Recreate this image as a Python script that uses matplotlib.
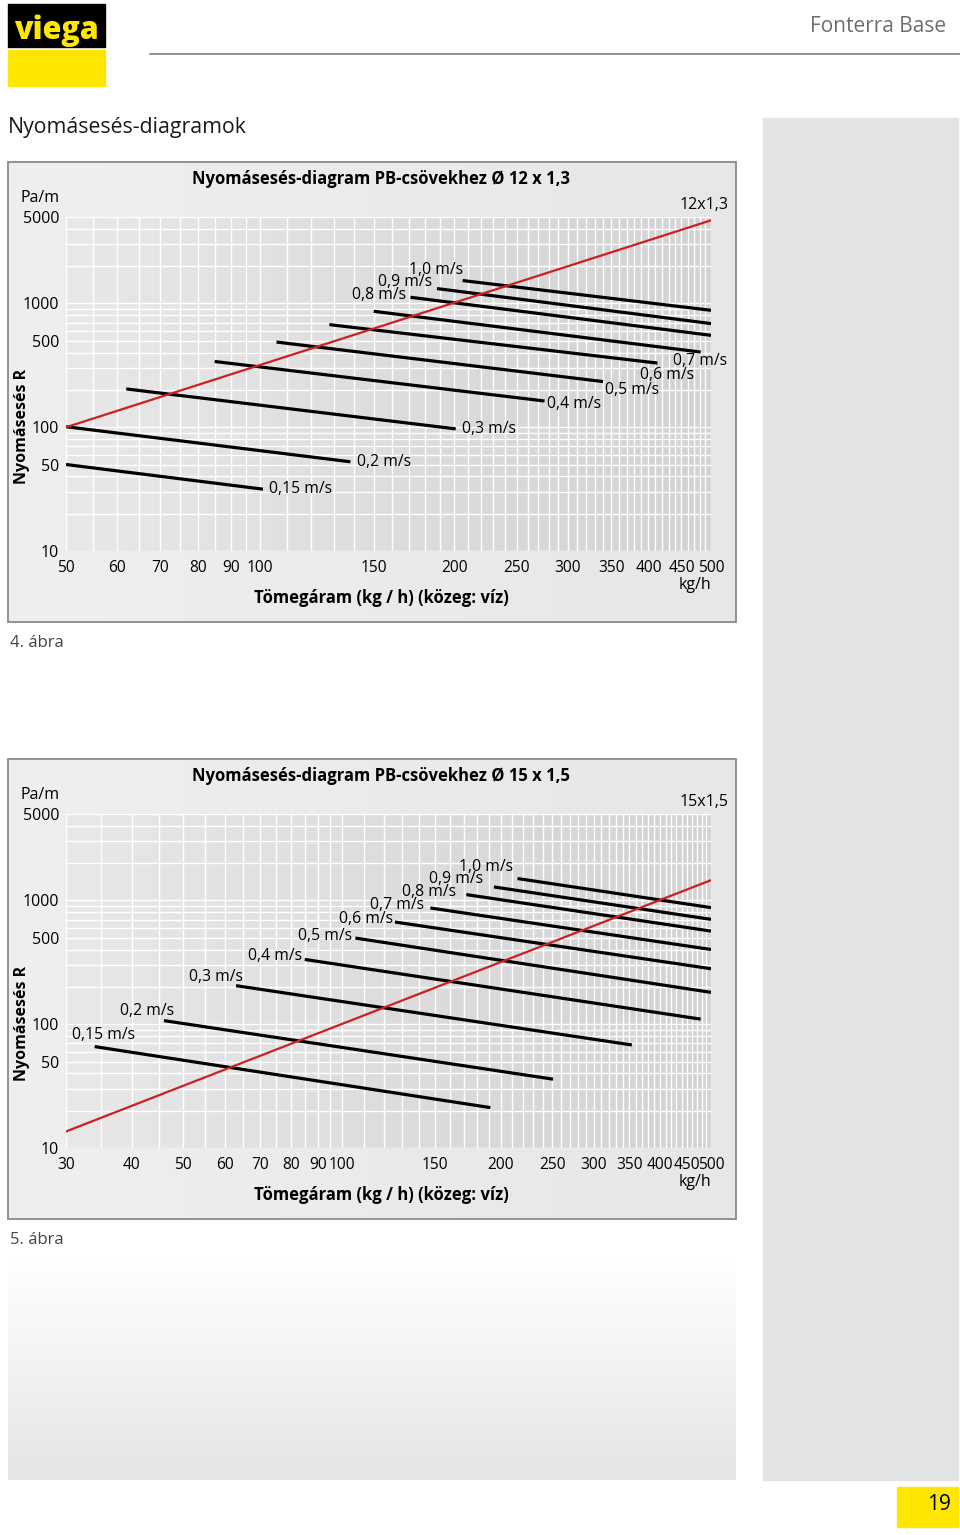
import numpy as np
import matplotlib.pyplot as plt
from matplotlib.patches import Rectangle
from matplotlib.colors import LinearSegmentedColormap
from matplotlib.ticker import FixedLocator, NullFormatter

plt.rcParams['font.family'] = ['Open Sans', 'DejaVu Sans']

W, H = 960, 1535
YELLOW = '#ffe600'
RED = '#cc1f24'

# ---- data ----
speed_labels = ["0,15 m/s", "0,2 m/s", "0,3 m/s", "0,4 m/s", "0,5 m/s",
                "0,6 m/s", "0,7 m/s", "0,8 m/s", "0,9 m/s", "1,0 m/s"]
r_ticks = [10, 50, 100, 500, 1000, 5000]

# fig. 4: PB pipe 12 x 1,3
flow_ticks_12 = [50, 60, 70, 80, 90, 100, 150, 200, 250, 300, 350, 400, 450, 500]
flow_start_12 = [50, 50, 62, 85, 106, 128, 150, 171, 188, 206]
r_start_12 = [50, 101, 204, 340, 488, 675, 865, 1123, 1320, 1533]
flow_end_12 = [101, 138, 201, 276, 340, 413, 482, 500, 500, 500]
r_end_12 = [31.6, 52.6, 97, 163, 234, 330, 405, 553, 688, 881]
red_flow_12 = [50, 500]
red_r_12 = [100, 4700]

# fig. 5: PB pipe 15 x 1,5
flow_ticks_15 = [30, 40, 50, 60, 70, 80, 90, 100, 150, 200, 250, 300, 350, 400, 450, 500]
flow_start_15 = [34, 46, 63, 85, 106, 126, 147, 172, 194, 215]
r_start_15 = [66, 107, 205, 334, 497, 670, 870, 1116, 1287, 1505]
flow_end_15 = [191, 251, 354, 478, 500, 500, 500, 500, 500, 500]
r_end_15 = [21.2, 36, 68, 110, 181, 281, 402, 566, 704, 876]
red_flow_15 = [30, 500]
red_r_15 = [13.6, 1460]

# label placement (anchor, dx px, dy px down, ha)
lab_12 = [('end', 6, 0, 'left'), ('end', 7, 0, 'left'), ('end', 6, 0, 'left'),
          ('end', 2, 3, 'left'), ('end', 2, 8, 'left'), ('end', -17, 12, 'left'),
          ('end', -28, 9, 'left'), ('start', -4, -2, 'right'),
          ('start', -5, -7, 'right'), ('start', 1, -11, 'right')]
lab_15 = [('start', 40, -12, 'right'), ('start', 10, -10, 'right'),
          ('start', 7, -9, 'right'), ('start', -3, -3, 'right'),
          ('start', -3, -2, 'right'), ('start', -2, -3, 'right'),
          ('start', -6, -3, 'right'), ('start', -10, -3, 'right'),
          ('start', -11, -8, 'right'), ('start', -4, -12, 'right')]


def px_rect(x0, y0, x1, y1):
    return [x0 / W, 1 - y1 / H, (x1 - x0) / W, (y1 - y0) / H]


def hgrad(ax, x0, y0, x1, y1, c0, c1, z=0):
    cm = LinearSegmentedColormap.from_list('g', [c0, c1])
    ax.imshow(np.linspace(0, 1, 256)[None, :], cmap=cm, aspect='auto',
              extent=[x0, x1, y1, y0], zorder=z, interpolation='bilinear')


fig = plt.figure(figsize=(W / 100, H / 100), dpi=100)
page = fig.add_axes([0, 0, 1, 1], zorder=0)
page.set_xlim(0, W)
page.set_ylim(H, 0)
page.axis('off')

# header
page.add_patch(Rectangle((8, 4), 97, 43, color='black', zorder=1))
page.add_patch(Rectangle((8, 50), 97, 36, color=YELLOW, zorder=1))
page.text(56, 31, "viega", color=YELLOW, fontsize=22, fontweight='heavy',
          ha='center', va='center', zorder=2)
page.plot([150, 960], [54, 54], color='#808080', lw=1.2)
page.text(946, 27, "Fonterra Base", color='#6d6e70', fontsize=15,
          ha='right', va='center')
page.text(8, 127, "Nyomásesés-diagramok", color='#1a1a1a', fontsize=15.3,
          ha='left', va='center')

# side panel, bottom fade, page number
page.add_patch(Rectangle((763, 118), 195, 1362, color='#e3e4e6', zorder=0))
cm_v = LinearSegmentedColormap.from_list('v', ['#ffffff', '#e4e5e7'])
page.imshow(np.linspace(0, 1, 256)[:, None], cmap=cm_v, aspect='auto',
            extent=[8, 736, 1480, 1260], zorder=0)
page.add_patch(Rectangle((897, 1487), 61, 40, color=YELLOW, zorder=1))
page.text(951, 1504, "19", fontsize=15, ha='right', va='center', zorder=2)


def chart(top, flow_lim, flow_ticks, fs, rs, fe, re, red_f, red_r, labs,
          title, pipe, caption):
    # frame
    hgrad(page, 8, top, 736, top + 460, '#efefef', '#e7e7e7', z=0)
    page.add_patch(Rectangle((8, top), 728, 460, fill=False,
                             edgecolor='#8a8a8a', lw=1.3, zorder=3))
    p0, p1 = top + 55, top + 389
    hgrad(page, 66, p0, 711, p1, '#e8e8e8', '#d2d2d2', z=1)

    page.text(381, top + 17, title, fontsize=12, fontweight='bold',
              ha='center', va='center')
    page.text(60, top + 36, "Pa/m", fontsize=11.5, ha='right', va='center')
    page.text(729, top + 43, pipe, fontsize=11.5, ha='right', va='center')
    page.text(22, top + 264, "Nyomásesés R", fontsize=11.5, fontweight='bold',
              rotation=90, ha='center', va='center')
    page.text(381, top + 436, "Tömegáram (kg / h) (közeg: víz)", fontsize=12,
              fontweight='bold', ha='center', va='center')
    page.text(711, top + 423, "kg/h", fontsize=11.5, ha='right', va='center')
    page.text(10, top + 481, caption, fontsize=12, color='#444444',
              ha='left', va='center')

    ax = fig.add_axes(px_rect(66, p0, 711, p1), zorder=2)
    ax.patch.set_alpha(0)
    ax.set_xscale('log')
    ax.set_yscale('log')
    ax.set_xlim(*flow_lim)
    ax.set_ylim(10, 5000)
    for s in ax.spines.values():
        s.set_visible(False)

    ax.xaxis.set_major_locator(FixedLocator(flow_ticks))
    ax.set_xticklabels([str(v) for v in flow_ticks])
    ax.xaxis.set_minor_locator(FixedLocator(
        list(np.arange(flow_lim[0], 100, 5)) + list(np.arange(100, 501, 10))))
    ax.xaxis.set_minor_formatter(NullFormatter())
    ax.yaxis.set_major_locator(FixedLocator(r_ticks))
    ax.set_yticklabels([str(v) for v in r_ticks])
    ax.yaxis.set_minor_locator(FixedLocator(
        list(range(10, 100, 10)) + list(range(100, 1000, 100)) +
        list(range(1000, 5001, 1000))))
    ax.yaxis.set_minor_formatter(NullFormatter())
    ax.tick_params(which='both', length=0, labelsize=11.5)
    ax.tick_params(axis='x', pad=6.5, labelsize=11.2)
    ax.tick_params(axis='y', pad=5)
    ax.grid(which='both', color='white', lw=1.0)
    ax.set_axisbelow(True)

    ax.plot(red_f, red_r, color=RED, lw=1.6, zorder=4, solid_capstyle='butt')
    for lab, x0, y0, x1, y1, (anc, dx, dy, ha) in zip(
            speed_labels, fs, rs, fe, re, labs):
        ax.plot([x0, x1], [y0, y1], color='black', lw=2.3, zorder=3,
                solid_capstyle='butt')
        pt = (x1, y1) if anc == 'end' else (x0, y0)
        ax.annotate(lab, pt, xytext=(dx * 0.72, -dy * 0.72),
                    textcoords='offset points', ha=ha, va='center',
                    fontsize=11.3, zorder=5, annotation_clip=False)
    return ax


chart(162, (50, 500), flow_ticks_12, flow_start_12, r_start_12, flow_end_12,
      r_end_12, red_flow_12, red_r_12, lab_12,
      "Nyomásesés-diagram PB-csövekhez Ø 12 x 1,3", "12x1,3", "4. ábra")
chart(759, (30, 500), flow_ticks_15, flow_start_15, r_start_15, flow_end_15,
      r_end_15, red_flow_15, red_r_15, lab_15,
      "Nyomásesés-diagram PB-csövekhez Ø 15 x 1,5", "15x1,5", "5. ábra")

fig.savefig('out.png', dpi=100)
